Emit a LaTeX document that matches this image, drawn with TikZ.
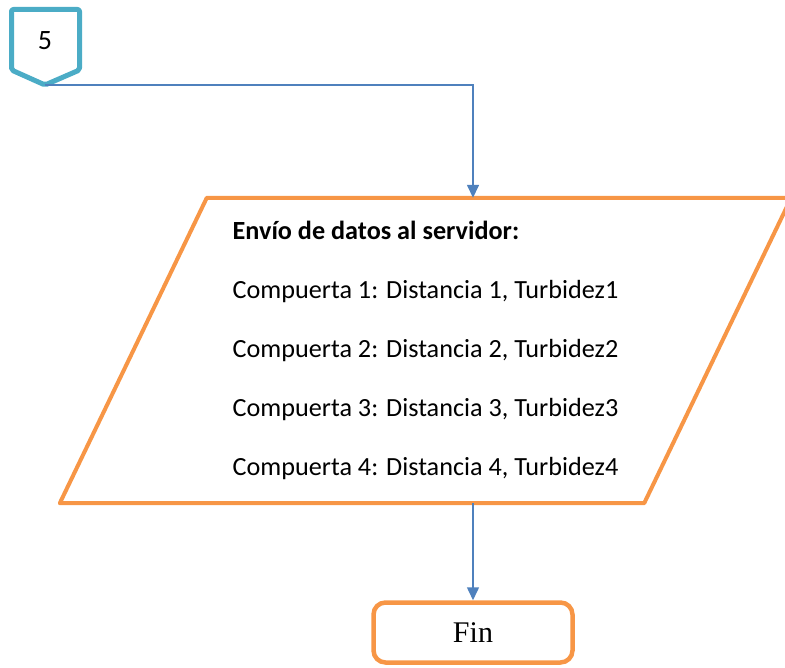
\documentclass[tikz,border=0pt]{standalone}
\usepackage{fontspec}
\setmainfont{Carlito}
\newfontfamily\finfont{Liberation Serif}
\usetikzlibrary{arrows.meta,calc}
\definecolor{Orange}{HTML}{F79646}
\definecolor{Teal}{HTML}{4BACC6}
\definecolor{Steel}{HTML}{4F81BD}
\begin{document}
\begin{tikzpicture}[x=1pt,y=-1pt,
  offpage/.style={draw=Teal,line width=5pt,rounded corners=2pt,line join=round},
  iobox/.style={draw=Orange,line width=4pt,line join=round},
  finbox/.style={draw=Orange,line width=4.5pt,rounded corners=12pt,minimum width=199pt,minimum height=60pt,
    font=\finfont\fontsize{30}{34}\selectfont},
  flow/.style={draw=Steel,line width=1.5pt,-{Triangle[length=13pt,width=12pt]}}]
\useasboundingbox (0,0) rectangle (785,668);
% off-page connector
\node[font=\fontsize{28}{30}\selectfont] (conn5) at (45,41) {5};
\draw[offpage] ($(conn5)+(-33.5,-31.5)$) -- ($(conn5)+(34.5,-31.5)$) -- ($(conn5)+(34.5,29)$)
  -- ($(conn5)+(0,44)$) -- ($(conn5)+(-33.5,29)$) -- cycle;
\coordinate (conn5tip) at ($(conn5)+(0,44)$);
% data output
\node[align=left,minimum width=437pt,minimum height=305pt,inner sep=0pt,
  font=\fontsize{26.2}{59}\selectfont] (io) at (425.5,350.5)
  {\textbf{Envío de datos al servidor:}\\
   Compuerta 1: Distancia 1, Turbidez1\\
   Compuerta 2: Distancia 2, Turbidez2\\
   Compuerta 3: Distancia 3, Turbidez3\\
   Compuerta 4: Distancia 4, Turbidez4};
\draw[iobox] ($(io.south west)+(-147,0)$) -- (io.north west) -- ($(io.north east)+(147,0)$)
  -- (io.south east) -- cycle;
\node[finbox] (fin) at (473,632.5) {Fin};
\draw[flow] (conn5tip) -| (io.north -| fin);
\draw[flow] (io.south -| fin) -- (fin);
\end{tikzpicture}
\end{document}
